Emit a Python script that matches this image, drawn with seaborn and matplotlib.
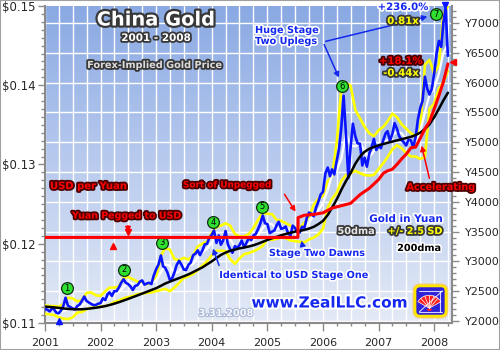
import numpy as np
import pandas as pd
import matplotlib
matplotlib.use("Agg")
import matplotlib.pyplot as plt
import matplotlib.dates as mdates
import matplotlib.patheffects as pe
from matplotlib.ticker import MultipleLocator, FuncFormatter
from matplotlib.colors import LinearSegmentedColormap
from matplotlib.patches import FancyBboxPatch, Wedge, Rectangle, FancyArrowPatch
import seaborn as sns

sns.set_theme(style="white")
plt.rcParams["font.family"] = ["DejaVu Sans"]

# ---------------------------------------------------------------- data
# gold in yuan, sampled on the 1st and 16th of each month
half_month_dates = [f"{y}-{m:02d}-{d:02d}" for y in range(2001, 2009)
                    for m in range(1, 13) for d in (1, 16)][:174] + ["2008-03-31"]
gold_yuan = [
    # 2001
    2200, 2190, 2160, 2210, 2195, 2140, 2130, 2175, 2250, 2390, 2255, 2235,
    2210, 2195, 2250, 2275, 2340, 2410, 2335, 2310, 2285, 2265, 2270, 2290,
    # 2002
    2300, 2380, 2350, 2450, 2480, 2420, 2500, 2500, 2560, 2640, 2700, 2640,
    2620, 2580, 2520, 2590, 2600, 2660, 2680, 2610, 2630, 2640, 2620, 2760,
    # 2003
    2870, 2945, 3100, 2915, 2895, 2815, 2690, 2715, 2815, 2940, 3010, 2945,
    2865, 2855, 2940, 2980, 3105, 3130, 3185, 3105, 3185, 3285, 3295, 3395,
    # 2004
    3445, 3520, 3310, 3435, 3280, 3350, 3510, 3285, 3205, 3145, 3255, 3230,
    3270, 3350, 3235, 3310, 3395, 3355, 3435, 3460, 3545, 3640, 3770, 3640,
    # 2005
    3625, 3475, 3500, 3520, 3600, 3665, 3545, 3560, 3585, 3475, 3435, 3600,
    3560, 3495, 3485, 3580, 3565, 3725, 3820, 3800, 3757, 3900, 4000, 4120,
    # 2006
    4170, 4475, 4575, 4430, 4545, 4460, 4690, 4890, 5240, 5780, 5120, 4400,
    4915, 5310, 5100, 4980, 4975, 4610, 4740, 4590, 4810, 4915, 5055, 4870,
    # 2007
    4935, 4900, 5040, 5150, 5185, 5025, 5135, 5320, 5230, 5100, 5040, 4995,
    4945, 5040, 5030, 4920, 5080, 5380, 5570, 5690, 6100, 5900, 5800, 5890,
    # 2008
    6150, 6480, 6700, 6600, 7000, 7250, 6450,
]

# monthly indicator values (1st of each month, last one 3.31.2008)
month_dates = [f"{y}-{m:02d}-01" for y in range(2001, 2009)
               for m in range(1, 13)][:87] + ["2008-03-31"]
dma50 = [
    2200, 2195, 2185, 2170, 2160, 2210, 2240, 2225, 2250, 2320, 2330, 2300,
    2285, 2320, 2400, 2450, 2490, 2570, 2650, 2620, 2580, 2620, 2640, 2635,
    2680, 2820, 2950, 2930, 2800, 2830, 2930, 2920, 2960, 3080, 3150, 3210,
    3320, 3430, 3380, 3360, 3370, 3240, 3240, 3270, 3290, 3360, 3440, 3560,
    3650, 3620, 3540, 3570, 3580, 3530, 3510, 3530, 3550, 3650, 3770, 3860,
    3980, 4200, 4450, 4530, 4720, 5150, 4950, 4930, 5000, 4850, 4750, 4850,
    4960, 4970, 5040, 5110, 5180, 5150, 5050, 5000, 5010, 5180, 5500, 5800,
    5900, 6150, 6500, 6650,
]
dma200 = [
    2240, 2235, 2228, 2220, 2210, 2203, 2198, 2195, 2197, 2203, 2212, 2222,
    2235, 2250, 2268, 2290, 2315, 2343, 2370, 2400, 2430, 2460, 2490, 2520,
    2550, 2590, 2628, 2660, 2690, 2720, 2750, 2782, 2820, 2860, 2900, 2950,
    3000, 3058, 3108, 3148, 3178, 3198, 3218, 3234, 3250, 3270, 3298, 3328,
    3360, 3388, 3410, 3438, 3460, 3480, 3500, 3512, 3530, 3550, 3580, 3625,
    3680, 3780, 3900, 4040, 4200, 4350, 4480, 4640, 4760, 4840, 4890, 4920,
    4950, 4970, 4990, 5010, 5030, 5050, 5070, 5090, 5120, 5160, 5220, 5300,
    5420, 5560, 5700, 5830,
]
band_upper = [
    2260, 2250, 2250, 2240, 2280, 2390, 2380, 2330, 2350, 2470, 2480, 2430,
    2420, 2500, 2560, 2560, 2580, 2720, 2740, 2700, 2660, 2640, 2620, 2640,
    2720, 3100, 3220, 3200, 3040, 3020, 3060, 3030, 3100, 3250, 3300, 3330,
    3480, 3580, 3600, 3640, 3600, 3460, 3420, 3420, 3460, 3560, 3700, 3810,
    3800, 3790, 3700, 3680, 3640, 3600, 3560, 3560, 3650, 3750, 3950, 4050,
    4100, 4350, 4420, 5000, 5900, 5990, 5950, 5540, 5400, 5260, 5150, 5100,
    5200, 5260, 5350, 5480, 5420, 5300, 5230, 5150, 5100, 5200, 6300, 6380,
    6150, 6300, 7150, 7280,
]
band_lower = [
    2120, 2110, 2100, 2060, 2040, 2030, 2060, 2140, 2150, 2200, 2220, 2235,
    2240, 2250, 2270, 2320, 2340, 2380, 2400, 2420, 2450, 2460, 2470, 2480,
    2500, 2520, 2540, 2500, 2560, 2640, 2720, 2750, 2790, 2850, 2930, 3000,
    3100, 3180, 3180, 3170, 3040, 2960, 3050, 3120, 3140, 3170, 3210, 3260,
    3380, 3360, 3380, 3400, 3390, 3350, 3340, 3330, 3320, 3370, 3400, 3450,
    3550, 3900, 4050, 4150, 4350, 4450, 4480, 4520, 4480, 4450, 4440, 4450,
    4550, 4650, 4750, 4880, 4950, 4900, 4820, 4760, 4760, 4720, 4750, 5560,
    5650, 5900, 6000, 6200,
]

# USD per yuan
fx_dates = ["2001-01-01", "2005-07-20", "2005-07-21", "2005-09-01", "2005-11-01",
            "2006-01-01", "2006-03-01", "2006-05-01", "2006-07-01", "2006-09-01",
            "2006-11-01", "2007-01-01", "2007-02-01", "2007-03-01", "2007-04-01",
            "2007-05-01", "2007-06-01", "2007-07-01", "2007-08-01", "2007-09-01",
            "2007-10-01", "2007-11-01", "2007-12-01", "2008-01-01", "2008-02-01",
            "2008-03-01", "2008-03-31"]
usd_per_yuan = [0.1208, 0.1208, 0.1233, 0.1236, 0.1237,
                0.1239, 0.1245, 0.1248, 0.1251, 0.1262,
                0.1270, 0.1281, 0.1289, 0.1292, 0.1294,
                0.1300, 0.1307, 0.1313, 0.1321, 0.1322,
                0.1333, 0.1345, 0.1354, 0.1370, 0.1387,
                0.1404, 0.1427]

# numbered uplegs
upleg_labels = ["1", "2", "3", "4", "5", "6", "7"]
upleg_dates = ["2001-05-26", "2002-06-02", "2003-02-10", "2004-01-12",
               "2004-11-28", "2006-05-08", "2008-01-15"]
upleg_yuan = [2553, 2856, 3309, 3660, 3913, 5943, 7146]

left_ticks = [0.11, 0.12, 0.13, 0.14, 0.15]
right_ticks = [2000, 2500, 3000, 3500, 4000, 4500, 5000, 5500, 6000, 6500, 7000]

# ---------------------------------------------------------------- frames
gold = pd.DataFrame({"date": pd.to_datetime(half_month_dates), "yuan": gold_yuan})
ind = pd.DataFrame({"date": pd.to_datetime(month_dates), "dma50": dma50,
                    "dma200": dma200, "upper": band_upper, "lower": band_lower})
fx = pd.DataFrame({"date": pd.to_datetime(fx_dates), "usd": usd_per_yuan})

BLUE = "#0a14ff"
TXT_BLUE = "#1428f0"
YELLOW = "#ffff00"
RED = "#ff0000"
GRID_GREY = "#8a8a8a"

fig = plt.figure(figsize=(5, 3.5), dpi=100)
fig.patch.set_facecolor("white")
W, H = 500.0, 350.0


def fpos(x, y):
    return x / W, 1 - y / H


ax = fig.add_axes([45 / W, 1 - 323 / H, (452 - 45) / W, (323 - 6) / H])

# sky gradient behind the plot
grad = LinearSegmentedColormap.from_list("sky", ["#8aa9e3", "#b9cbee", "#e4eaf6"])
ax.imshow(np.linspace(0, 1, 256).reshape(-1, 1), cmap=grad, aspect="auto",
          extent=[0, 1, 0, 1], transform=ax.transAxes, zorder=-10, origin="upper")

kw = dict(ax=ax, estimator=None, sort=False, legend=False)
sns.lineplot(data=ind, x="date", y="upper", color=YELLOW, lw=1.9, zorder=3, **kw)
sns.lineplot(data=ind, x="date", y="lower", color=YELLOW, lw=1.9, zorder=3, **kw)
sns.lineplot(data=ind, x="date", y="dma50", color="white", lw=1.6, zorder=4, **kw)
sns.lineplot(data=gold, x="date", y="yuan", color=BLUE, lw=1.9, zorder=5, **kw)
sns.lineplot(data=ind, x="date", y="dma200", color="black", lw=1.8, zorder=6, **kw)

xmin, xmax = pd.Timestamp("2001-01-01"), pd.Timestamp("2008-04-27")
ax.set_xlim(xmin, xmax)
ax.set_ylim(1966, 7286)

axl = ax.twinx()
sns.lineplot(data=fx, x="date", y="usd", color=RED, lw=2.2, zorder=7,
             ax=axl, estimator=None, sort=False, legend=False)
axl.set_ylim(0.11, 0.15)
axl.set_xlim(xmin, xmax)

# axes: yuan on the right, USD per yuan on the left
ax.yaxis.tick_right()
ax.set_yticks(right_ticks)
ax.yaxis.set_minor_locator(MultipleLocator(100))
ax.yaxis.set_major_formatter(FuncFormatter(lambda v, p: f"Y{v:.0f}"))
axl.yaxis.tick_left()
axl.set_yticks(left_ticks)
axl.yaxis.set_minor_locator(MultipleLocator(0.001))
axl.yaxis.set_major_formatter(FuncFormatter(lambda v, p: r"\$" + f"{v:.2f}"))

ax.xaxis.set_major_locator(mdates.YearLocator())
ax.xaxis.set_minor_locator(mdates.MonthLocator(bymonth=[1, 4, 7, 10]))
ax.xaxis.set_major_formatter(mdates.DateFormatter("%Y"))

for a in (ax, axl):
    a.set_xlabel("")
    a.set_ylabel("")
ax.tick_params(axis="y", which="major", direction="out", length=5, width=1,
               color=GRID_GREY, labelsize=8, pad=4, right=True, left=False,
               labelright=True, labelleft=False)
ax.tick_params(axis="y", which="minor", direction="out", length=3, width=1,
               color=GRID_GREY, right=True, left=False)
axl.tick_params(axis="y", which="major", direction="out", length=5, width=1,
                color=GRID_GREY, labelsize=8.5, pad=2, left=True, right=False,
                labelleft=True, labelright=False)
axl.tick_params(axis="y", which="minor", direction="out", length=3, width=1,
                color=GRID_GREY, left=True, right=False)
ax.tick_params(axis="x", which="major", direction="out", length=6, width=1,
               color=GRID_GREY, labelsize=8, pad=5, bottom=True)
ax.tick_params(axis="x", which="minor", direction="out", length=2, width=1,
               color=GRID_GREY, bottom=True)
axl.tick_params(axis="x", which="both", bottom=False, labelbottom=False)

ax.set_axisbelow(True)
ax.grid(which="major", axis="y", color="white", lw=1.0)
ax.grid(which="both", axis="x", color="white", lw=1.0)

for a in (ax, axl):
    for s in a.spines.values():
        s.set_visible(False)
for side in ("left", "right", "bottom"):
    ax.spines[side].set_visible(True)
    ax.spines[side].set_color(GRID_GREY)
    ax.spines[side].set_linewidth(1.5)

# upleg markers
for lab, d, v in zip(upleg_labels, upleg_dates, upleg_yuan):
    ax.plot(pd.Timestamp(d), v, "o", ms=8.5, mfc="#2fe02f", mec="#103010",
            mew=0.9, zorder=9, clip_on=False)
    ax.text(pd.Timestamp(d), v, lab, ha="center", va="center", fontsize=6,
            color="black", zorder=10)

# low / high flags
ax.plot(pd.Timestamp("2001-04-03"), 1995, marker="^", ms=5, color=BLUE,
        zorder=9, clip_on=False)
ax.plot(pd.Timestamp("2008-03-12"), 7300, marker="v", ms=5, color=BLUE,
        zorder=9, clip_on=False)
axl.plot(pd.Timestamp("2002-03-22"), 0.11975, marker="^", ms=4.5, color=RED,
         zorder=9, clip_on=False)
axl.plot(pd.Timestamp("2002-07-01"), 0.12152, marker="v", ms=4.5, color=RED,
         zorder=9, clip_on=False)
axl.plot(pd.Timestamp("2008-05-05"), 0.1429, marker="<", ms=4.5, color=RED,
         zorder=9, clip_on=False)

# ---------------------------------------------------------------- captions
DARK = "#383838"
DARK_RED = "#4a0000"
captions = [
    ("China Gold", 156, 20, 14, "white", DARK, 3.2, "center"),
    ("2001 - 2008", 156, 38, 7.5, "white", DARK, 2.6, "center"),
    ("Forex-Implied Gold Price", 155, 65, 7, "#dcdcdc", DARK, 2.6, "center"),
    ("USD per Yuan", 50, 186, 7.2, RED, DARK_RED, 2.6, "left"),
    ("Yuan Pegged to USD", 72, 216, 6.8, RED, DARK_RED, 2.6, "left"),
    ("Sort of Unpegged", 183, 185, 6.4, RED, DARK_RED, 2.6, "left"),
    ("Huge Stage", 255, 30, 7, TXT_BLUE, "white", 2.4, "left"),
    ("Two Uplegs", 255, 41, 7, TXT_BLUE, "white", 2.4, "left"),
    ("+236.0%", 403, 7, 7.3, TXT_BLUE, "white", 2.4, "center"),
    ("0.81x", 403, 21, 7.3, YELLOW, DARK, 2.6, "center"),
    ("+18.1%", 401, 61, 7.3, RED, DARK_RED, 2.6, "center"),
    ("-0.44x", 401, 73, 7.3, YELLOW, DARK, 2.6, "center"),
    ("Accelerating", 441, 187, 7, RED, DARK_RED, 2.6, "center"),
    ("Gold in Yuan", 406, 219, 7.5, TXT_BLUE, "white", 2.4, "center"),
    ("50dma", 356, 231, 7, "#e8e8e8", DARK, 2.6, "center"),
    ("+/- 2.5 SD", 415, 231, 7, YELLOW, DARK, 2.6, "center"),
    ("200dma", 419, 248, 7, "black", "white", 2.4, "center"),
    ("Stage Two Dawns", 317, 253, 7, TXT_BLUE, "white", 2.4, "center"),
    ("Identical to USD Stage One", 294, 275, 7, TXT_BLUE, "white", 2.4, "center"),
    ("www.ZealLLC.com", 329, 303, 11, TXT_BLUE, "white", 3.0, "center"),
    ("3.31.2008", 226, 313, 7, "#f6f8fc", "#aab8d6", 1.5, "center"),
]
for s, x, y, size, col, stroke, sw, ha in captions:
    fx_, fy_ = fpos(x, y)
    fig.text(fx_, fy_, s, ha=ha, va="center", fontsize=size, fontweight="bold",
             color=col, zorder=20,
             path_effects=[pe.withStroke(linewidth=sw, foreground=stroke)])

arrows = [
    ((128, 223), (128, 235), RED),
    ((283, 192), (297, 214), RED),
    ((323, 42), (340, 80), TXT_BLUE),
    ((323, 42), (430, 16), TXT_BLUE),
    ((430, 181), (421, 143), RED),
    ((220, 268), (212, 246), TXT_BLUE),
    ((303, 248), (301, 238), TXT_BLUE),
]
for (x0, y0), (x1, y1), col in arrows:
    fig.add_artist(FancyArrowPatch(
        fpos(x0, y0), fpos(x1, y1), transform=fig.transFigure,
        arrowstyle="-|>,head_length=3,head_width=1.6", color=col, lw=1.1,
        zorder=19))

# logo badge
lax = fig.add_axes([412 / W, 1 - 319 / H, 37 / W, 36 / H])
lax.set_xlim(0, 1)
lax.set_ylim(0, 1)
lax.axis("off")
lax.add_patch(FancyBboxPatch((0.08, 0.08), 0.84, 0.84,
                             boxstyle="round,pad=0,rounding_size=0.14",
                             fc="none", ec="#ffb347", lw=3.5, alpha=0.6))
lax.add_patch(FancyBboxPatch((0.08, 0.08), 0.84, 0.84,
                             boxstyle="round,pad=0,rounding_size=0.14",
                             fc="#2e22d8", ec="#ffe600", lw=2.0))
for seg in (([0.2, 0.82], [0.78, 0.78]), ([0.82, 0.2], [0.78, 0.2]),
            ([0.2, 0.82], [0.2, 0.2]), ([0.75, 0.75], [0.2, 0.78])):
    lax.plot(seg[0], seg[1], color="white", lw=0.8, alpha=0.8)
lax.add_patch(Wedge((0.47, 0.3), 0.36, 30, 150, fc="#ff2020", ec="white", lw=0.5))
for ang in np.radians([50, 70, 90, 110, 130]):
    lax.plot([0.47, 0.47 + 0.36 * np.cos(ang)], [0.3, 0.3 + 0.36 * np.sin(ang)],
             color="white", lw=0.5)
lax.add_patch(Wedge((0.47, 0.3), 0.08, 200, 340, fc="#ff2020", ec="none"))

# outer frame
fig.add_artist(Rectangle((0, 0), 1, 1, transform=fig.transFigure, fill=False,
                         ec="#a0a0a0", lw=1.5))

fig.savefig("out.png", dpi=100)
